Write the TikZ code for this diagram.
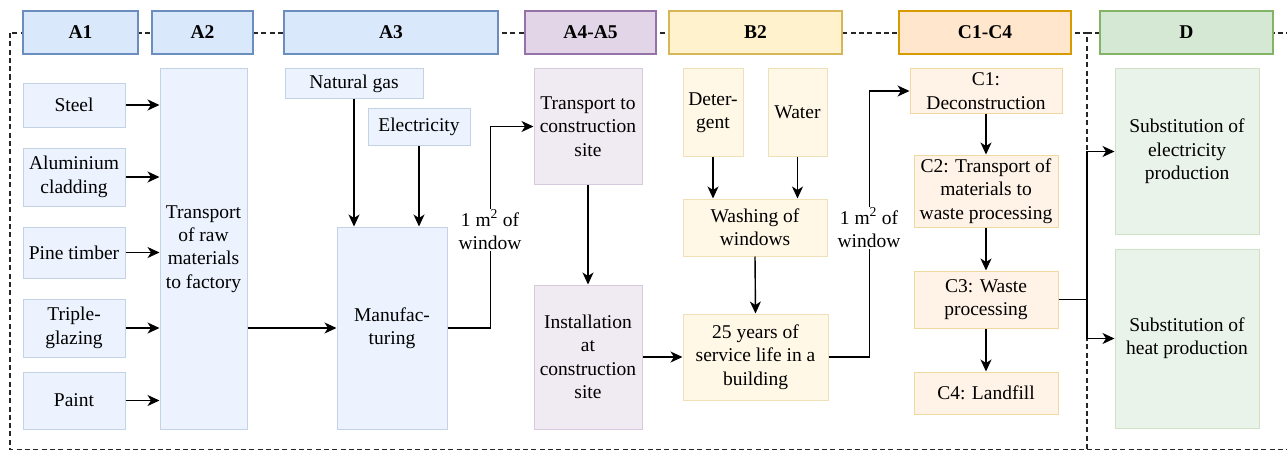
\documentclass[tikz,border=0pt]{standalone}
\usepackage{fontspec}
\setmainfont{Liberation Serif}
\newfontfamily\tms{Liberation Serif}
\usetikzlibrary{arrows.meta}
\definecolor{bF}{HTML}{DAE8FC}\definecolor{bS}{HTML}{6C8EBF}
\definecolor{pF}{HTML}{E1D5E7}\definecolor{pS}{HTML}{9673A6}
\definecolor{yF}{HTML}{FFF2CC}\definecolor{yS}{HTML}{D6B656}
\definecolor{oF}{HTML}{FFE6CC}\definecolor{oS}{HTML}{D79B00}
\definecolor{gF}{HTML}{D5E8D4}\definecolor{gS}{HTML}{82B366}
\tikzset{
  every node/.style={font=\tms\fontsize{19.5}{23.4}\selectfont},
  hdr/.style={draw, line width=2pt, font=\tms\fontsize{19.5}{23.4}\selectfont\bfseries, minimum height=43pt, inner sep=0pt},
  cb/.style={draw, line width=1pt, align=center, inner sep=0pt},
  bbox/.style={cb, fill=bF!50, draw=bS!40},
  pbox/.style={cb, fill=pF!50, draw=pS!38},
  ybox/.style={cb, fill=yF!50, draw=yS!42},
  obox/.style={cb, fill=oF!50, draw=oS!38},
  gbox/.style={cb, fill=gF!50, draw=gS!38},
  arr/.style={-{Stealth[length=12pt,width=11pt,inset=3.5pt]}, line width=1.4pt},
  ln/.style={line width=1.4pt},
  lbl/.style={fill=white, align=center, inner sep=1pt},
  bound/.style={line width=1.2pt, dash pattern=on 5pt off 3.3pt, black!85}
}
\begin{document}
\begin{tikzpicture}[x=1pt,y=-1pt]
\useasboundingbox (0,0) rectangle (1287,452);
% boundary
\coordinate (tl) at (10,33);
\coordinate (br) at (1087,449.5);
\coordinate (tr) at (1287,33);
\coordinate (brr) at (1287,449.5);
\draw[bound] (tl) rectangle (br);
\draw[bound] (br |- tl) -- (tr);
\draw[bound] (br) -- (brr);
% headers
\node[hdr, fill=bF, draw=bS, minimum width=115pt] (hA1) at (80.5,32.5) {A1};
\node[hdr, fill=bF, draw=bS, minimum width=101pt] (hA2) at (202.5,32.5) {A2};
\node[hdr, fill=bF, draw=bS, minimum width=214pt] (hA3) at (391,32.5) {A3};
\node[hdr, fill=pF, draw=pS, minimum width=131pt] (hA4) at (590.5,32.5) {A4-A5};
\node[hdr, fill=yF, draw=yS, minimum width=173pt] (hB2) at (755.5,32.5) {B2};
\node[hdr, fill=oF, draw=oS, minimum width=172pt] (hC) at (985,32.5) {C1-C4};
\node[hdr, fill=gF, draw=gS, minimum width=173pt] (hD) at (1186.5,32.5) {D};
% A1
\node[bbox, minimum width=102pt, minimum height=44pt] (steel) at (74,105) {Steel};
\node[bbox, minimum width=102pt, minimum height=58pt] (alu) at (74,177) {Aluminium\\cladding};
\node[bbox, minimum width=102pt, minimum height=51pt] (pine) at (74,252.5) {Pine timber};
\node[bbox, minimum width=102pt, minimum height=58pt] (trip) at (74,328) {Triple-\\glazing};
\node[bbox, minimum width=102pt, minimum height=57pt] (paint) at (74,400.5) {Paint};
% A2
\node[bbox, minimum width=87pt, minimum height=360pt] (a2) at (203.5,249) {Transport\\of raw\\materials\\to factory};
% A3
\node[bbox, minimum width=138pt, minimum height=29pt] (gas) at (354,83.5) {Natural gas};
\node[bbox, minimum width=102pt, minimum height=37pt] (elec) at (419,126.5) {Electricity};
\node[bbox, minimum width=110pt, minimum height=202pt] (manu) at (392,328) {Manufac-\\turing};
% A4-A5
\node[pbox, minimum width=108pt, minimum height=115pt] (trans) at (588,126.5) {Transport to\\construction\\site};
\node[pbox, minimum width=108pt, minimum height=144pt] (inst) at (588,357) {Installation\\at\\construction\\site};
% B2
\node[ybox, minimum width=60pt, minimum height=87pt] (det) at (713,112.5) {Deter-\\gent};
\node[ybox, minimum width=59pt, minimum height=87pt] (water) at (797.5,112.5) {Water};
\node[ybox, minimum width=144pt, minimum height=57pt] (wash) at (755,227.5) {Washing of\\windows};
\node[ybox, minimum width=145pt, minimum height=86pt] (serv) at (755.5,357) {25 years of\\service life in a\\building};
% C
\node[obox, minimum width=152pt, minimum height=44pt] (c1) at (986,91) {C1:\\Deconstruction};
\node[obox, minimum width=144pt, minimum height=72pt] (c2) at (986,191) {C2: Transport of\\materials to\\waste processing};
\node[obox, minimum width=144pt, minimum height=57pt] (c3) at (986,299.5) {C3: Waste\\processing};
\node[obox, minimum width=144pt, minimum height=42pt] (c4) at (986,393) {C4: Landfill};
% D
\node[gbox, minimum width=144pt, minimum height=165pt] (dE) at (1187,151.5) {Substitution of\\electricity\\production};
\node[gbox, minimum width=144pt, minimum height=179pt] (dH) at (1187,338.5) {Substitution of\\heat production};
% connectors A1 -> A2
\foreach \n in {steel,alu,pine,trip,paint}
  \draw[arr] (\n.east) -- (\n.east -| a2.west);
% A2 -> manu
\draw[arr] (a2.east |- manu.west) -- (manu.west);
\draw[arr] (gas.south) -- (gas.south |- manu.north);
\draw[arr] (elec.south) -- (elec.south |- manu.north);
% manu -> trans
\draw[arr] (manu.east) -- ++(43,0) |- (trans.west);
\node[lbl] (m1) at (490,230) {1 m\textsuperscript{2} of\\window};
\draw[arr] (trans.south) -- (inst.north);
\draw[arr] (inst.east) -- (serv.west);
\draw[arr] (det.south) -- (det.south |- wash.north);
\draw[arr] (water.south) -- (water.south |- wash.north);
\draw[arr] (wash.south) -- (serv.north);
% serv -> c1
\draw[arr] (serv.east) -- ++(41,0) |- (c1.west);
\node[lbl] (m2) at (869,228) {1 m\textsuperscript{2} of\\window};
\draw[arr] (c1.south) -- (c2.north);
\draw[arr] (c2.south) -- (c3.north);
\draw[arr] (c3.south) -- (c4.north);
% c3 -> D
\coordinate (split) at (1087,299.5);
\draw[ln] (c3.east) -- (split);
\draw[arr] (split) |- (dE.west);
\draw[arr] (split) |- (dH.west);
\end{tikzpicture}
\end{document}
